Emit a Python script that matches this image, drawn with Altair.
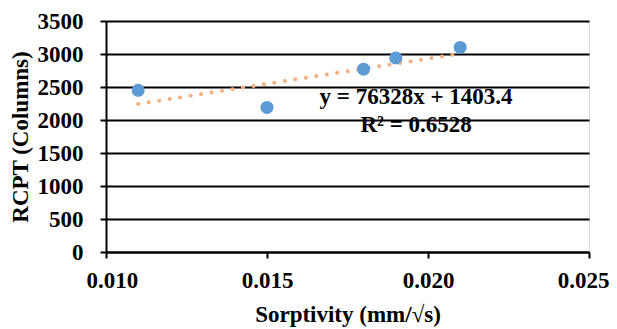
import altair as alt
import pandas as pd

sorptivity = [0.011, 0.015, 0.018, 0.019, 0.021]
rcpt = [2450, 2190, 2770, 2940, 3100]

trend_x = [0.011, 0.021]
trend_y = [2243, 3006]

x_ticks = [0.010, 0.015, 0.020, 0.025]
y_ticks = [0, 500, 1000, 1500, 2000, 2500, 3000, 3500]

eq_lines = ["y = 76328x + 1403.4", "R² = 0.6528"]
eq_x = [0.01963, 0.01963]
eq_y = [2345, 1920]

FONT = "Liberation Serif"
FS = 23

pts = pd.DataFrame({"x": sorptivity, "y": rcpt})
tr = pd.DataFrame({"x": trend_x, "y": trend_y})
eq = pd.DataFrame({"x": eq_x, "y": eq_y, "t": eq_lines})

xs = alt.Scale(domain=[0.010, 0.025], nice=False, zero=False)
ys = alt.Scale(domain=[0, 3500], nice=False)

xaxis = alt.Axis(values=x_ticks, format=".3f", grid=False, tickSize=6, tickWidth=2,
                 tickColor="black", domainColor="black", domainWidth=2,
                 labelFlush=True, labelFlushOffset=20, labelOverlap=False,
                 labelFont=FONT, labelFontWeight="bold", labelFontSize=FS, labelColor="black",
                 labelPadding=11, title="Sorptivity (mm/√s)", titleFont=FONT,
                 titleFontWeight="bold", titleFontSize=FS, titleColor="black", titlePadding=11)
yaxis = alt.Axis(values=y_ticks, format="d", grid=True, gridColor="black", gridWidth=2,
                 gridOpacity=1, tickSize=6, tickWidth=2, tickColor="black",
                 domainColor="black", domainWidth=2, labelOverlap=False, labelFlush=False,
                 labelFont=FONT, labelFontWeight="bold", labelFontSize=FS, labelColor="black",
                 labelPadding=17, title="RCPT (Columns)", titleFont=FONT,
                 titleFontWeight="bold", titleFontSize=FS, titleColor="black", titlePadding=5)

X = lambda: alt.X("x:Q", scale=xs, axis=xaxis)
Y = lambda: alt.Y("y:Q", scale=ys, axis=yaxis)

points = alt.Chart(pts).mark_circle(size=170, color="#5B9BD5", opacity=1).encode(
    x=X(), y=Y(),
)

trend = alt.Chart(tr).mark_line(color="#F4B183", strokeWidth=4, strokeCap="round",
                                strokeDash=[0.1, 10.5]).encode(
    x=X(), y=Y(),
)

text = alt.Chart(eq).mark_text(font=FONT, fontWeight="bold", fontSize=FS, color="black",
                               align="center", baseline="middle").encode(
    x=X(), y=Y(),
    text="t:N",
)

chart = alt.layer(trend, points, text).properties(
    width=483, height=231,
    autosize=alt.AutoSizeParams(type="none"),
    padding={"left": 98, "top": 13, "right": 20, "bottom": 76},
).configure_view(stroke=None).configure(background="white")

chart.save("out.html", embed_options={"renderer": "svg", "actions": False})
